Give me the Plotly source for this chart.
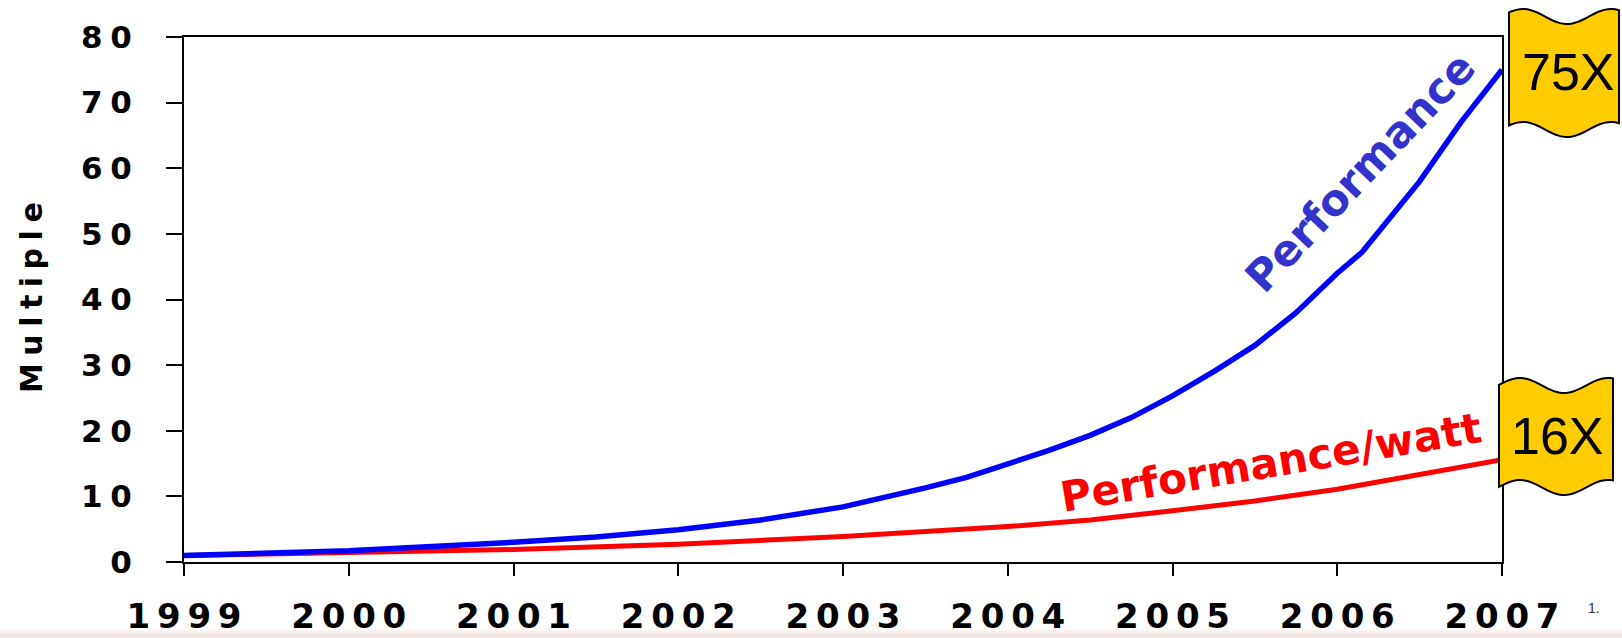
import math
import plotly.graph_objects as go

# ---------------- data ----------------
perf_years = [1999, 2000, 2001, 2001.5, 2002, 2002.5, 2003, 2003.25, 2003.5, 2003.75,
              2004, 2004.25, 2004.5, 2004.75, 2005, 2005.25, 2005.5, 2005.75,
              2006, 2006.15, 2006.5, 2006.75, 2007]
perf_values = [1.0, 1.7, 3.0, 3.8, 4.9, 6.4, 8.4, 9.8, 11.3, 12.9,
               14.9, 17.0, 19.3, 22.0, 25.3, 29.0, 33.0, 38.0,
               44.0, 47.2, 58.0, 67.0, 75.0]
ppw_years = [1999, 2000, 2001, 2002, 2003, 2004, 2004.5, 2005, 2005.5, 2006, 2006.5, 2007]
ppw_values = [1.0, 1.4, 1.9, 2.7, 3.9, 5.4, 6.4, 7.8, 9.3, 11.1, 13.3, 15.6]

year_ticks = [1999, 2000, 2001, 2002, 2003, 2004, 2005, 2006, 2007]
y_ticks = [0, 10, 20, 30, 40, 50, 60, 70, 80]
flag_labels = ["75X", "16X"]

SP = "\u2005"  # four-per-em space used as letter spacing
TS = "\u2009"  # thin space
def spaced(s, sep=SP):
    return sep.join(list(str(s)))

W, H = 1622, 638
L, R, T, B = 184, 1502, 37, 562
PW, PH = R - L, B - T

def px2paper(px, py):
    return (px - L) / PW, (B - py) / PH

def flag_path(xl, xr, yc, amp, period, phase, height, n=40):
    pts_top = []
    for i in range(n + 1):
        x = xl + (xr - xl) * i / n
        y = yc - amp * math.sin(2 * math.pi * (x - xl + phase) / period)
        pts_top.append((x, y))
    pts_bot = [(x, y + height) for (x, y) in reversed(pts_top)]
    pts = pts_top + pts_bot
    s = ""
    for k, (x, y) in enumerate(pts):
        xp, yp = px2paper(x, y)
        s += ("M" if k == 0 else "L") + f"{xp:.5f},{yp:.5f} "
    return s + "Z"

FONT = "DejaVu Sans"

fig = go.Figure()
fig.add_trace(go.Scatter(x=ppw_years, y=ppw_values, mode="lines",
                         line=dict(color="#FF0000", width=5), showlegend=False))
fig.add_trace(go.Scatter(x=perf_years, y=perf_values, mode="lines",
                         line=dict(color="#0000FF", width=5.5), showlegend=False))

shapes = [
    dict(type="path", xref="paper", yref="paper",
         path=flag_path(1509, 1619, 16.5, 7.5, 88, 8, 113),
         fillcolor="#FFCC00", line=dict(color="black", width=2), layer="above"),
    dict(type="path", xref="paper", yref="paper",
         path=flag_path(1499, 1613, 385.5, 7.5, 88, 1, 102),
         fillcolor="#FFCC00", line=dict(color="black", width=2), layer="above"),
]

annotations = []
fx, fy = px2paper(1568, 72)
annotations.append(dict(x=fx, y=fy, xref="paper", yref="paper", text=flag_labels[0],
                        showarrow=False, xanchor="center", yanchor="middle",
                        font=dict(family="Liberation Sans", size=52, color="black")))
fx, fy = px2paper(1557, 436)
annotations.append(dict(x=fx, y=fy, xref="paper", yref="paper", text=flag_labels[1],
                        showarrow=False, xanchor="center", yanchor="middle",
                        font=dict(family="Liberation Sans", size=52, color="black")))
annotations.append(dict(x=2006.14, y=59.4, xref="x", yref="y", text="Performance",
                        showarrow=False, textangle=-46.5, xanchor="center", yanchor="middle",
                        font=dict(family=FONT, size=43, color="#3333CC", weight="bold")))
annotations.append(dict(x=2005.60, y=15.2, xref="x", yref="y", text="Performance/watt",
                        showarrow=False, textangle=-9.5, xanchor="center", yanchor="middle",
                        font=dict(family=FONT, size=42, color="#FF0000", weight="bold")))
tx, ty = px2paper(31, 298)
annotations.append(dict(x=tx, y=ty, xref="paper", yref="paper", text=spaced("Multiple"),
                        showarrow=False, textangle=-90, xanchor="center", yanchor="middle",
                        font=dict(family=FONT, size=30, color="black", weight="bold")))
nx, ny = px2paper(1594, 608)
annotations.append(dict(x=nx, y=ny, xref="paper", yref="paper", text="1.",
                        showarrow=False, xanchor="center", yanchor="middle",
                        font=dict(family="Liberation Sans", size=14, color="#333333")))

# faint band at bottom of slide
for k, op in enumerate([0.10, 0.18, 0.26]):
    y0 = 628 + 3 * k
    x0p, y0p = px2paper(0, y0)
    x1p, y1p = px2paper(W, 638)
    shapes.append(dict(type="rect", xref="paper", yref="paper", x0=x0p, x1=x1p, y0=y0p, y1=y1p,
                       fillcolor=f"rgba(225,195,185,{op})", line=dict(width=0), layer="below"))

fig.update_layout(
    width=W, height=H,
    margin=dict(l=L, r=W - R, t=T, b=H - B, autoexpand=False),
    paper_bgcolor="white", plot_bgcolor="white",
    shapes=shapes, annotations=annotations,
    xaxis=dict(range=[1999, 2007], tickvals=year_ticks,
               ticktext=[spaced(y, TS) for y in year_ticks],
               showline=True, mirror=True, linecolor="black", linewidth=2,
               ticks="outside", ticklen=12, tickwidth=2, tickcolor="black",
               ticklabelstandoff=11, showgrid=False, zeroline=False, automargin=False,
               tickfont=dict(family=FONT, size=34, color="black", weight="bold")),
    yaxis=dict(range=[0, 80], tickvals=y_ticks,
               ticktext=[spaced(v) for v in y_ticks],
               showline=True, mirror=True, linecolor="black", linewidth=2,
               ticks="outside", ticklen=16, tickwidth=2, tickcolor="black",
               ticklabelstandoff=28, showgrid=False, zeroline=False, automargin=False,
               tickfont=dict(family=FONT, size=31, color="black", weight="bold")),
)

fig.write_html("out.html", config={"displayModeBar": False},
               post_script="document.body.style.margin='0';document.body.style.overflow='hidden';")
